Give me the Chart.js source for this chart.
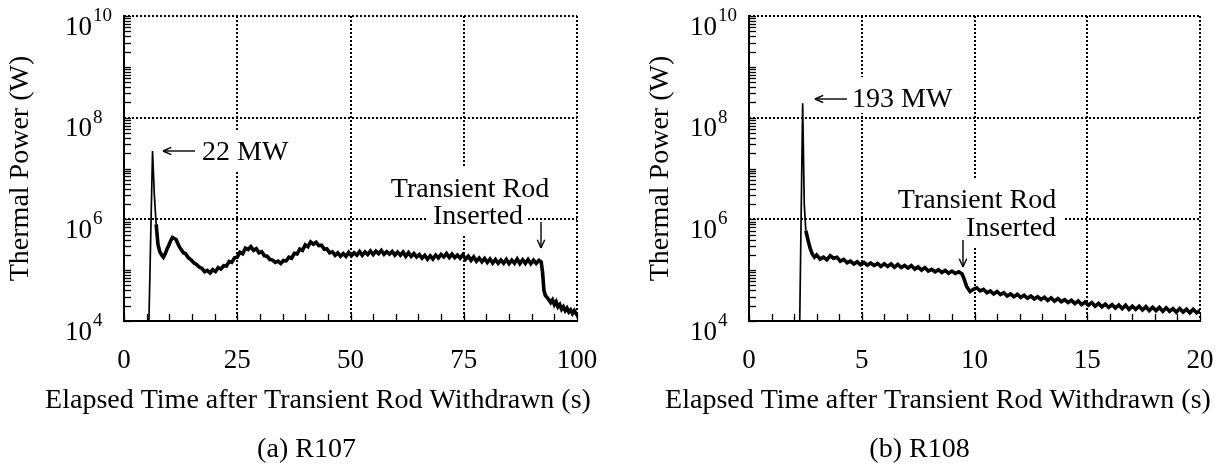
<!DOCTYPE html>
<html>
<head>
<meta charset="utf-8">
<title>Thermal power after transient rod withdrawal — R107 / R108</title>
<script src="https://cdn.jsdelivr.net/npm/chart.js@4.4.1/dist/chart.umd.min.js"></script>
<style>
  html, body { margin: 0; padding: 0; background: #fff; }
  #page { position: relative; width: 1226px; height: 465px; }
  .panel { position: absolute; top: 0; width: 613px; height: 465px; }
  #panelA { left: 0; }
  #panelB { left: 613px; }
</style>
</head>
<body>
<div id="page">
  <div class="panel" id="panelA"><canvas id="chartA" width="613" height="465"></canvas></div>
  <div class="panel" id="panelB"><canvas id="chartB" width="613" height="465"></canvas></div>
</div>
<script>
// R107: elapsed time (s) and thermal power (W)
var r107Time = [
  5.5, 6.3, 6.7, 7.1, 7.5, 7.9, 8.3, 8.7, 9.1, 9.5, 9.9, 10.3, 10.7, 11.1, 11.5, 11.9, 12.3, 12.7, 13.1,
  13.6, 14.2, 14.8, 15.4, 16.0, 16.6, 17.2, 17.8, 18.4, 19.0, 19.6, 20.2, 20.8, 21.4, 22.0, 22.6, 23.2, 23.8, 24.4,
  25.0, 25.6, 26.2, 26.8, 27.4, 28.0, 28.6, 29.2, 29.8, 30.4, 31.0, 31.6, 32.2, 32.8, 33.4, 34.0, 34.6, 35.2, 35.8,
  36.4, 37.0, 37.6, 38.2, 38.8, 39.4, 40.0, 40.6, 41.2, 41.8, 42.4, 43.0, 43.6, 44.2, 44.8, 45.4, 46.0, 46.6, 47.2,
  47.8, 48.4, 49.0, 49.6, 50.2, 50.8, 51.4, 52.0, 52.6, 53.2, 53.8, 54.4, 55.0, 55.6, 56.2, 56.8, 57.4, 58.0, 58.6,
  59.2, 59.8, 60.4, 61.0, 61.6, 62.2, 62.8, 63.4, 64.0, 64.6, 65.2, 65.8, 66.4, 67.0, 67.6, 68.2, 68.8, 69.4, 70.0,
  70.6, 71.2, 71.8, 72.4, 73.0, 73.6, 74.2, 74.8, 75.4, 76.0, 76.6, 77.2, 77.8, 78.4, 79.0, 79.6, 80.2, 80.8, 81.4,
  82.0, 82.6, 83.2, 83.8, 84.4, 85.0, 85.6, 86.2, 86.8, 87.4, 88.0, 88.6, 89.2, 89.8, 90.4, 91.0, 91.6, 92.1, 92.4,
  92.7, 93.0, 93.4, 93.8, 94.2, 94.6, 95.0, 95.4, 95.8, 96.2, 96.6, 97.0, 97.4, 97.8, 98.2, 98.6, 99.0, 99.4, 99.8, 100
];
var r107Power = [
  1.0e4, 2.2e7, 3.0e6, 8.0e5, 3.2e5, 2.3e5, 2.0e5, 1.8e5, 2.1e5, 2.6e5, 3.1e5, 3.8e5, 4.4e5, 4.2e5, 4.0e5, 3.3e5, 2.8e5, 2.5e5, 2.2e5,
  2.1e5, 1.75e5, 1.6e5, 1.4e5, 1.3e5, 1.15e5, 1.08e5, 9.3e4, 9.9e4, 8.8e4, 1.02e5, 9.4e4, 1.12e5, 1.05e5, 1.22e5, 1.2e5, 1.48e5, 1.42e5, 1.75e5,
  1.8e5, 2.25e5, 2.1e5, 2.7e5, 2.55e5, 2.9e5, 2.45e5, 2.65e5, 2.2e5, 2.3e5, 1.92e5, 1.88e5, 1.62e5, 1.58e5, 1.42e5, 1.5e5, 1.35e5, 1.55e5, 1.52e5,
  1.8e5, 1.72e5, 2.15e5, 2.08e5, 2.6e5, 2.45e5, 3.15e5, 2.9e5, 3.6e5, 3.25e5, 3.55e5, 3.05e5, 3.1e5, 2.6e5, 2.62e5, 2.2e5, 2.3e5, 1.95e5, 2.18e5,
  1.88e5, 2.12e5, 1.86e5, 2.25e5, 1.92e5, 2.2e5, 1.98e5, 2.32e5, 1.96e5, 2.28e5, 2.02e5, 2.38e5, 2.02e5, 2.36e5, 2.12e5, 2.45e5, 2.06e5, 2.32e5, 2.08e5,
  2.34e5, 1.98e5, 2.26e5, 1.97e5, 2.28e5, 1.88e5, 2.22e5, 1.86e5, 2.12e5, 1.82e5, 2.02e5, 1.72e5, 1.96e5, 1.64e5, 1.92e5, 1.66e5, 1.98e5, 1.74e5, 2.04e5,
  1.82e5, 2.12e5, 1.78e5, 2.06e5, 1.76e5, 1.98e5, 1.72e5, 2.02e5, 1.64e5, 1.88e5, 1.56e5, 1.82e5, 1.5e5, 1.73e5, 1.46e5, 1.7e5, 1.42e5, 1.66e5, 1.38e5,
  1.62e5, 1.36e5, 1.58e5, 1.36e5, 1.62e5, 1.34e5, 1.58e5, 1.37e5, 1.66e5, 1.34e5, 1.6e5, 1.36e5, 1.62e5, 1.34e5, 1.58e5, 1.36e5, 1.56e5, 1.45e5, 9.0e4,
  4.0e4, 3.2e4, 2.9e4, 2.6e4, 2.3e4, 2.6e4, 2.1e4, 2.4e4, 1.9e4, 2.1e4, 1.7e4, 1.9e4, 1.6e4, 1.8e4, 1.5e4, 1.65e4, 1.4e4, 1.6e4, 1.4e4, 1.55e4
];

// R108
var r108Time = [
  2.25, 2.38, 2.45, 2.52, 2.6, 2.7, 2.8, 2.9, 3.0, 3.15, 3.3, 3.45, 3.6, 3.75, 3.9, 4.05, 4.2, 4.35, 4.5, 4.65,
  4.8, 4.95, 5.1, 5.25, 5.4, 5.55, 5.7, 5.85, 6.0, 6.15, 6.3, 6.45, 6.6, 6.75, 6.9, 7.05, 7.2, 7.35, 7.5, 7.65,
  7.8, 7.95, 8.1, 8.25, 8.4, 8.55, 8.7, 8.85, 9.0, 9.15, 9.3, 9.45, 9.55, 9.65, 9.8, 9.95, 10.1, 10.25, 10.4, 10.55,
  10.7, 10.85, 11.0, 11.15, 11.3, 11.45, 11.6, 11.75, 11.9, 12.05, 12.2, 12.35, 12.5, 12.65, 12.8, 12.95, 13.1, 13.25, 13.4, 13.55,
  13.7, 13.85, 14.0, 14.15, 14.3, 14.45, 14.6, 14.75, 14.9, 15.05, 15.2, 15.35, 15.5, 15.65, 15.8, 15.95, 16.1, 16.25, 16.4, 16.55,
  16.7, 16.85, 17.0, 17.15, 17.3, 17.45, 17.6, 17.75, 17.9, 18.05, 18.2, 18.35, 18.5, 18.65, 18.8, 18.95, 19.1, 19.25, 19.4, 19.55,
  19.7, 19.85, 20.0
];
var r108Power = [
  1.0e4, 1.93e8, 2.0e6, 6.0e5, 4.2e5, 2.8e5, 2.1e5, 1.8e5, 2.0e5, 1.65e5, 1.8e5, 1.6e5, 1.92e5, 1.72e5, 1.8e5, 1.5e5, 1.62e5, 1.4e5, 1.5e5, 1.32e5,
  1.46e5, 1.28e5, 1.42e5, 1.25e5, 1.38e5, 1.23e5, 1.36e5, 1.19e5, 1.34e5, 1.18e5, 1.33e5, 1.14e5, 1.3e5, 1.13e5, 1.24e5, 1.1e5, 1.23e5, 1.05e5, 1.16e5, 1.0e5,
  1.12e5, 9.6e4, 1.04e5, 9.3e4, 1.02e5, 9.0e4, 9.9e4, 8.7e4, 9.6e4, 8.6e4, 9.3e4, 8.4e4, 6.5e4, 4.8e4, 3.8e4, 4.2e4, 4.5e4, 3.9e4, 4.2e4, 3.6e4,
  3.9e4, 3.4e4, 3.8e4, 3.3e4, 3.6e4, 3.1e4, 3.4e4, 3.0e4, 3.35e4, 2.9e4, 3.2e4, 2.8e4, 3.1e4, 2.72e4, 3.0e4, 2.65e4, 2.92e4, 2.55e4, 2.85e4, 2.45e4,
  2.75e4, 2.4e4, 2.62e4, 2.3e4, 2.55e4, 2.2e4, 2.48e4, 2.1e4, 2.35e4, 2.05e4, 2.3e4, 1.95e4, 2.22e4, 1.9e4, 2.15e4, 1.86e4, 2.1e4, 1.8e4, 2.06e4, 1.75e4,
  2.05e4, 1.7e4, 1.96e4, 1.7e4, 1.95e4, 1.65e4, 1.92e4, 1.6e4, 1.86e4, 1.6e4, 1.85e4, 1.55e4, 1.82e4, 1.55e4, 1.75e4, 1.5e4, 1.76e4, 1.5e4, 1.7e4, 1.45e4,
  1.7e4, 1.45e4, 1.6e4
];

// axes
var r107TimeTicks = [0, 25, 50, 75, 100];
var r108TimeTicks = [0, 5, 10, 15, 20];
var r107TimeMinorStep = 5;
var r108TimeMinorStep = 1;
var powerDecades = [1e4, 1e6, 1e8, 1e10];
var powerExponents = ['4', '6', '8', '10'];

var SERIF = "'Liberation Serif', 'Times New Roman', serif";

function toPoints(xs, ys) {
  return xs.map(function (x, i) { return { x: x, y: ys[i] }; });
}

function line(ctx, x1, y1, x2, y2) {
  ctx.beginPath();
  ctx.moveTo(x1, y1);
  ctx.lineTo(x2, y2);
  ctx.stroke();
}

function arrow(ctx, a) {
  line(ctx, a.x1, a.y1, a.x2, a.y2);
  var ang = Math.atan2(a.y2 - a.y1, a.x2 - a.x1);
  var len = 9, spread = 0.42;
  line(ctx, a.x2, a.y2, a.x2 - len * Math.cos(ang - spread), a.y2 - len * Math.sin(ang - spread));
  line(ctx, a.x2, a.y2, a.x2 - len * Math.cos(ang + spread), a.y2 - len * Math.sin(ang + spread));
}

// dotted grid, inward ticks, axes, labels and notes
var figurePlugin = {
  id: 'figure',
  beforeDatasetsDraw: function (chart, args, opts) {
    var ctx = chart.ctx, ca = chart.chartArea;
    var xs = chart.scales.x, ys = chart.scales.y;
    ctx.save();
    ctx.strokeStyle = '#000';
    ctx.fillStyle = '#000';

    ctx.lineWidth = 2;
    ctx.setLineDash([2, 2]);
    opts.xMajor.forEach(function (v) {
      if (v === xs.min) return;
      var px = Math.round(xs.getPixelForValue(v));
      line(ctx, px, ca.top, px, ca.bottom);
    });
    opts.yMajor.forEach(function (v) {
      if (v === ys.min) return;
      var py = Math.round(ys.getPixelForValue(v));
      line(ctx, ca.left, py, ca.right, py);
    });

    ctx.setLineDash([]);
    ctx.lineWidth = 1.3;
    xs.ticks.forEach(function (t) {
      var px = Math.round(xs.getPixelForValue(t.value)) + 0.5;
      line(ctx, px, ca.bottom, px, ca.bottom - 7);
    });
    ys.ticks.forEach(function (t) {
      var py = Math.round(ys.getPixelForValue(t.value)) + 0.5;
      line(ctx, ca.left, py, ca.left + 7, py);
    });

    ctx.lineWidth = 2;
    line(ctx, ca.left, ca.top - 1, ca.left, ca.bottom + 1);
    line(ctx, ca.left - 1, ca.bottom, ca.right + 1, ca.bottom);

    // notes on white boxes
    ctx.font = '28px ' + SERIF;
    ctx.textBaseline = 'alphabetic';
    opts.notes.forEach(function (n) {
      ctx.fillStyle = '#fff';
      ctx.fillRect(n.box[0], n.box[1], n.box[2], n.box[3]);
      ctx.fillStyle = '#000';
      ctx.textAlign = n.align;
      ctx.fillText(n.text, n.x, n.y);
    });
    ctx.lineWidth = 1.4;
    opts.arrows.forEach(function (a) { arrow(ctx, a); });

    // power tick labels, 10 with raised exponent
    opts.yMajor.forEach(function (v, i) {
      var py = ys.getPixelForValue(v);
      var xr = ca.left - 32;
      ctx.textAlign = 'right';
      ctx.font = '27px ' + SERIF;
      ctx.fillText('10', xr, py + 18.5);
      ctx.textAlign = 'left';
      ctx.font = '19px ' + SERIF;
      ctx.fillText(opts.exponents[i], xr + 1, py + 5);
    });

    // x-axis title and panel caption
    ctx.textAlign = 'center';
    ctx.font = '28px ' + SERIF;
    ctx.fillText(opts.xTitle, opts.xTitleX, 408);
    ctx.fillText(opts.caption, chart.width / 2, 457);
    ctx.restore();
  }
};

function makeChart(canvasId, cfg) {
  var minorTicks = [];
  for (var v = cfg.xMin; v <= cfg.xMax + 1e-9; v += cfg.xMinorStep) minorTicks.push({ value: v });
  var powerTicks = [];
  for (var e = 4; e < 10; e++) {
    for (var m = 1; m <= 9; m++) powerTicks.push({ value: m * Math.pow(10, e) });
  }
  powerTicks.push({ value: 1e10 });

  return new Chart(document.getElementById(canvasId), {
    type: 'line',
    data: {
      datasets: [{
        data: toPoints(cfg.time, cfg.power),
        borderColor: '#000',
        borderWidth: 3.6,
        borderJoinStyle: 'miter',
        pointRadius: 0,
        tension: 0,
        fill: false,
        segment: {
          borderWidth: function (c) { return c.p0.parsed.x < cfg.thinUntil ? 1.7 : 3.6; }
        }
      }]
    },
    options: {
      responsive: false,
      animation: false,
      events: [],
      layout: { padding: { left: cfg.padLeft, right: cfg.padRight, top: 16, bottom: 0 } },
      plugins: {
        legend: { display: false },
        tooltip: { enabled: false },
        figure: {
          xMajor: cfg.xTicks,
          yMajor: powerDecades,
          exponents: powerExponents,
          notes: cfg.notes,
          arrows: cfg.arrows,
          xTitle: 'Elapsed Time after Transient Rod Withdrawn (s)',
          xTitleX: cfg.xTitleX,
          caption: cfg.caption
        }
      },
      scales: {
        x: {
          type: 'linear',
          min: cfg.xMin,
          max: cfg.xMax,
          afterBuildTicks: function (s) { s.ticks = minorTicks; },
          afterFit: function (s) { s.height = 144; s.paddingLeft = 0; s.paddingRight = 0; },
          grid: { display: false, drawTicks: false },
          border: { display: false },
          ticks: {
            autoSkip: false,
            maxRotation: 0,
            padding: 24,
            color: '#000',
            font: { family: SERIF, size: 27 },
            callback: function (val) { return cfg.xTicks.indexOf(val) >= 0 ? String(val) : ''; }
          }
        },
        y: {
          type: 'logarithmic',
          min: 1e4,
          max: 1e10,
          afterBuildTicks: function (s) { s.ticks = powerTicks; },
          afterFit: function (s) { s.width = cfg.yWidth; s.paddingTop = 0; s.paddingBottom = 0; },
          grid: { display: false, drawTicks: false },
          border: { display: false },
          ticks: { display: false },
          title: {
            display: true,
            text: 'Thermal Power (W)',
            color: '#000',
            font: { family: SERIF, size: 28 },
            padding: { top: 4, bottom: 0 }
          }
        }
      }
    },
    plugins: [figurePlugin]
  });
}

makeChart('chartA', {
  time: r107Time, power: r107Power,
  xMin: 0, xMax: 100, xTicks: r107TimeTicks, xMinorStep: r107TimeMinorStep,
  thinUntil: 7,
  padLeft: 0, yWidth: 124, padRight: 36,
  xTitleX: 318,
  caption: '(a) R107',
  notes: [
    { text: '22 MW', x: 202, y: 160, align: 'left', box: [160, 132, 130, 38] },
    { text: 'Transient Rod', x: 470, y: 197, align: 'center', box: [386, 168, 168, 34] },
    { text: 'Inserted', x: 478, y: 224, align: 'center', box: [428, 203, 100, 32] }
  ],
  arrows: [
    { x1: 195, y1: 151, x2: 163, y2: 151 },
    { x1: 541, y1: 222, x2: 541, y2: 248 }
  ]
});

makeChart('chartB', {
  time: r108Time, power: r108Power,
  xMin: 0, xMax: 20, xTicks: r108TimeTicks, xMinorStep: r108TimeMinorStep,
  thinUntil: 2.5,
  padLeft: 27, yWidth: 109, padRight: 26,
  xTitleX: 325,
  caption: '(b) R108',
  notes: [
    { text: '193 MW', x: 239, y: 107, align: 'left', box: [198, 77, 142, 36] },
    { text: 'Transient Rod', x: 364, y: 208, align: 'center', box: [280, 179, 168, 34] },
    { text: 'Inserted', x: 398, y: 236, align: 'center', box: [339, 213, 112, 34] }
  ],
  arrows: [
    { x1: 234, y1: 99, x2: 202, y2: 99 },
    { x1: 350, y1: 240, x2: 350, y2: 267 }
  ]
});
</script>
</body>
</html>
